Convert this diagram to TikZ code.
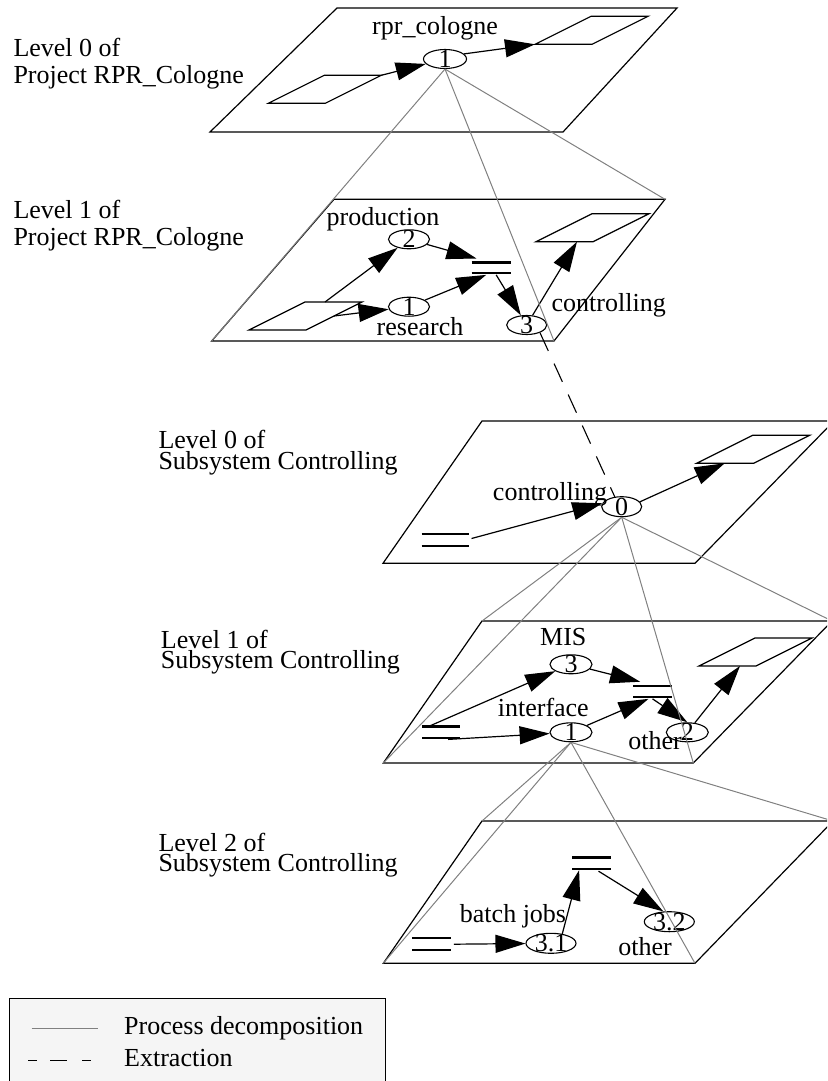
\documentclass[tikz,border=0pt]{standalone}
\usepackage{fontspec}
\setmainfont{Liberation Serif}
\usetikzlibrary{arrows.meta,shapes.geometric,calc}

\begin{document}
\begin{tikzpicture}[x=1pt,y=-1pt,
  txt/.style={font=\fontsize{26}{28}\selectfont, inner sep=0pt},
  proc/.style={ellipse, draw, line width=1.1pt, inner sep=0pt,
               minimum width=#1, minimum height=19pt},
  proc/.default=42pt,
  store/.style={rectangle, inner sep=0pt, minimum width=#1, minimum height=11pt},
  storeline/.style={line width=2.2pt},
  plane/.style={line width=1.2pt, line join=miter},
  flowarrow/.style={line width=1.2pt, -{Triangle[length=30pt,width=18pt]}},
  decomp/.style={draw=gray, line width=1pt},
  extract/.style={line width=1.1pt, dash pattern=on 20pt off 14pt},
  flow/.pic={\draw[plane] (0,0) coordinate (-bl) -- (57,0) coordinate (-br)
                -- (113,-28) coordinate (-tr) -- (56,-28) coordinate (-tl) -- cycle;}
]
\clip (0,0) rectangle (827,1081);

% ---------- level labels ----------
\node[txt, anchor=base west] (l0a) at (13.3,56.7) {Level 0 of};
\node[txt, anchor=base west] (l0b) at (13.3,83.3) {Project RPR\_Cologne};
\node[txt, anchor=base west] (l1a) at (13.3,218.3) {Level 1 of};
\node[txt, anchor=base west] (l1b) at (13.3,245) {Project RPR\_Cologne};
\node[txt, anchor=base west] (s0a) at (158.3,448.3) {Level 0 of};
\node[txt, anchor=base west] (s0b) at (158.3,469) {Subsystem Controlling};
\node[txt, anchor=base west] (s1a) at (160.7,648.3) {Level 1 of};
\node[txt, anchor=base west] (s1b) at (160.7,668.3) {Subsystem Controlling};
\node[txt, anchor=base west] (s2a) at (158.3,851.7) {Level 2 of};
\node[txt, anchor=base west] (s2b) at (158.3,871.7) {Subsystem Controlling};

% ---------- planes ----------
\coordinate (p1tl) at (337,8);     \coordinate (p1tr) at (677,8);
\coordinate (p1br) at (563,132);   \coordinate (p1bl) at (210,132);
\coordinate (p2tl) at (334,199.3); \coordinate (p2tr) at (665,199.3);
\coordinate (p2br) at (554,341);   \coordinate (p2bl) at (211.7,341);
\coordinate (p3tl) at (482,421);   \coordinate (p3tr) at (834,421);
\coordinate (p3br) at (695,563.3); \coordinate (p3bl) at (383,563.3);
\coordinate (p4tl) at (482,621);   \coordinate (p4tr) at (832,621);
\coordinate (p4br) at (693.3,763); \coordinate (p4bl) at (383.3,763);
\coordinate (p5tl) at (482,821);   \coordinate (p5tr) at (833,821);
\coordinate (p5br) at (695,963.3); \coordinate (p5bl) at (383.3,963.3);
\foreach \p in {p1,p2,p3,p4,p5}
  \draw[plane] (\p tl) -- (\p tr) -- (\p br) -- (\p bl) -- cycle;

% ---------- level 0 of the project ----------
\pic (fa) at (268.3,103.3) {flow};
\pic (fb) at (535,44.3) {flow};
\node[proc=43pt, label={[txt]center:1}] (a1) at (445,59) {};
\node[txt, anchor=base] (ta1) at (435,35) {rpr\_cologne};
\draw[flowarrow] (fa-tr) -- (a1);
\draw[flowarrow] (a1.15) -- (fb-bl);

% ---------- level 1 of the project ----------
\pic (fc) at (249,330) {flow};
\pic (fd) at (536,241.7) {flow};
\node[proc=41pt, label={[txt]center:2}] (b2) at (409,239.3) {};
\node[proc=41pt, label={[txt]center:1}] (b1) at (409,306.7) {};
\node[proc=40pt, label={[txt]center:3}] (b3) at (526.7,325) {};
\node[store=39pt, minimum height=10pt] (sb) at (491.2,267.7) {};
\node[txt, anchor=base] (tb2) at (383,225) {production};
\node[txt, anchor=base] (tb1) at (420,335) {research};
\node[txt, anchor=base] (tb3) at (608.7,311.7) {controlling};
\draw[flowarrow] ($(fc-tl)+(20,0)$) -- (b2);
\draw[flowarrow] ($(fc-br)!0.5!(fc-tr)$) -- (b1);
\draw[flowarrow] (b2) -- ($(sb.north west)+(5,-4)$);
\draw[flowarrow] (b1) -- ($(sb.south)+(-5,2)$);
\draw[flowarrow] ($(sb.south)+(5,2)$) -- (b3);
\draw[flowarrow] (b3) -- ($(fd-bl)+(41,0)$);

% ---------- level 0 of the subsystem ----------
\pic (fe) at (696.7,463.3) {flow};
\node[proc=40pt, minimum height=20pt, label={[txt]center:0}] (c0) at (621.7,506.7) {};
\node[store=46.6pt, minimum height=11.4pt] (sc) at (445,540) {};
\node[txt, anchor=base] (tc0) at (550,500) {controlling};
\draw[flowarrow] ($(sc.east)+(3,-1.5)$) -- (c0.170);
\draw[flowarrow] (c0.15) -- ($(fe-bl)+(28,0)$);

% ---------- level 1 of the subsystem ----------
\pic (ff) at (699,666) {flow};
\node[proc=42pt, label={[txt]center:3}] (d3) at (571,664.3) {};
\node[proc=42pt, label={[txt]center:1}] (d1) at (571,732.3) {};
\node[proc=42pt, label={[txt]center:2}] (d2) at (687.3,732.3) {};
\node[store=38.4pt, minimum height=10.7pt] (sdm) at (652.5,691.3) {};
\node[store=37.3pt] (sdl) at (441.3,732.2) {};
\node[txt, anchor=base] (td3) at (563.3,645) {MIS};
\node[txt, anchor=base] (td1) at (543.3,716.7) {interface};
\node[txt, anchor=base] (td2) at (655,749.3) {other};
\draw[flowarrow] ($(sdl.north west)+(6,0)$) -- (d3);
\draw[flowarrow] ($(sdl.south east)+(-12,1.5)$) -- (d1);
\draw[flowarrow] (d3) -- ($(sdm.north west)+(7,-4)$);
\draw[flowarrow] (d1) -- ($(sdm.south)+(-4,2)$);
\draw[flowarrow] ($(sdm.south)+(0,2)$) -- (d2.north);
\draw[flowarrow] (d2) -- ($(ff-bl)+(41,0)$);

% ---------- level 2 of the subsystem ----------
\node[proc=50pt, minimum height=20pt, label={[txt]center:3.1}] (e31) at (551,943.3) {};
\node[proc=50pt, minimum height=20pt, label={[txt]center:3.2}] (e32) at (669.3,921.7) {};
\node[store=38.4pt, minimum height=11.3pt] (set) at (591.5,863.3) {};
\node[store=38.7pt, minimum height=11.7pt] (sel) at (431.7,944.2) {};
\node[txt, anchor=base] (te31) at (513,922.7) {batch jobs};
\node[txt, anchor=base] (te32) at (645,955) {other};
\draw[flowarrow] ($(sel.east)+(2.5,0)$) -- (e31);
\draw[flowarrow] (e31.40) -- ($(set.south west)+(7,1)$);
\draw[flowarrow] ($(set.south)+(7,2)$) -- (e32.120);

% ---------- data stores ----------
\foreach \s in {sb,sc,sdm,sdl,set,sel}
  \draw[storeline] (\s.north west) -- (\s.north east) (\s.south west) -- (\s.south east);

% ---------- process decomposition ----------
\foreach \c in {p2bl,p2br,p2tr} \draw[decomp] (a1.south) -- (\c);
\foreach \c in {p4tl,p4bl,p4br,p4tr} \draw[decomp] (c0.south) -- (\c);
\foreach \c in {p5tl,p5bl,p5br,p5tr} \draw[decomp] (d1.south) -- (\c);

% ---------- extraction ----------
\draw[extract] (b3.-30) -- (c0.125);

% ---------- legend ----------
\draw[line width=1.5pt, fill=black!4] (9.3,998.3) rectangle (385.7,1095);
\coordinate (lg1a) at (31.7,1028.3); \coordinate (lg1b) at (98.3,1028.3);
\coordinate (lg2a) at (28,1060.7);   \coordinate (lg2b) at (92,1060.7);
\draw[decomp] (lg1a) -- (lg1b);
\draw[line width=1.1pt, dash pattern=on 9pt off 13pt on 17pt off 15pt] (lg2a) -- (lg2b);
\node[txt, anchor=base west] (lgt1) at (124,1034) {Process decomposition};
\node[txt, anchor=base west] (lgt2) at (124,1066) {Extraction};
\end{tikzpicture}
\end{document}
